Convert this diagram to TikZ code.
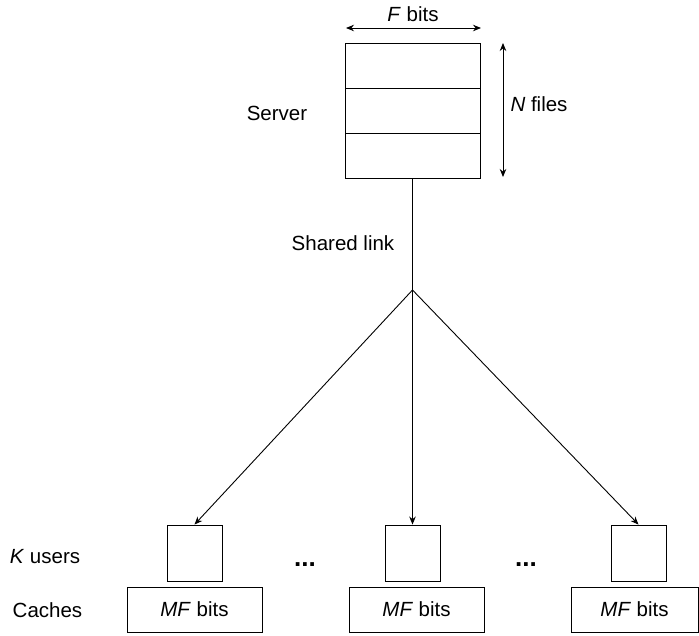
\documentclass[tikz,border=0pt]{standalone}
\usepackage{fontspec}
\setmainfont{Liberation Sans}
\usetikzlibrary{arrows.meta}
\begin{document}
\begin{tikzpicture}[x=1pt,y=-1pt,
  line width=0.9pt,
  every node/.style={font=\fontsize{20.5}{24}\selectfont, inner sep=0pt},
  row/.style={draw, minimum width=135pt, minimum height=45pt},
  user/.style={draw, minimum width=55pt, minimum height=56pt},
  cache/.style={draw, minimum width=135pt, minimum height=45pt},
  dots/.style={font=\fontsize{26}{28}\selectfont\bfseries},
  arr/.style={-{Stealth[length=8pt,width=6.5pt]}},
  darr/.style={{Stealth[length=8pt,width=6.5pt]}-{Stealth[length=8pt,width=6.5pt]}}]
\useasboundingbox (0,0) rectangle (699,635);
% server
\node[row] (f1) at (412.5,65.5) {};
\node[row] (f2) at (412.5,110.5) {};
\node[row] (f3) at (412.5,155.5) {};
\node (server) at (277,113) {Server};
\node (fbits) at (413,14) {\textit{F} bits};
\node (nfiles) at (539,104) {\textit{N} files};
\coordinate (fa) at (346,28);
\coordinate (fb) at (481,28);
\draw[darr] (fa) -- (fb);
\coordinate (na) at (503,43);
\coordinate (nb) at (503,177);
\draw[darr] (na) -- (nb);
% link
\coordinate (j) at (412.5,290);
\draw (f3.south) -- (j);
\node (link) at (343,243) {Shared link};
% users
\node[user] (u1) at (194.5,553) {};
\node[user] (u2) at (412.5,553) {};
\node[user] (u3) at (638.5,553) {};
\draw[arr] (j) -- (u1.north);
\draw[arr] (j) -- (u2.north);
\draw[arr] (j) -- (u3.north);
% caches
\node[cache] (c1) at (194.5,609.5) {\textit{MF} bits};
\node[cache] (c2) at (416.5,609.5) {\textit{MF} bits};
\node[cache, minimum width=127pt] (c3) at (634.5,609.5) {\textit{MF} bits};
\node (kusers) at (45,557) {\textit{K} users};
\node (caches) at (47.5,610) {Caches};
\node[dots] (d1) at (305,565) {...};
\node[dots] (d2) at (526,565) {...};
\end{tikzpicture}
\end{document}
